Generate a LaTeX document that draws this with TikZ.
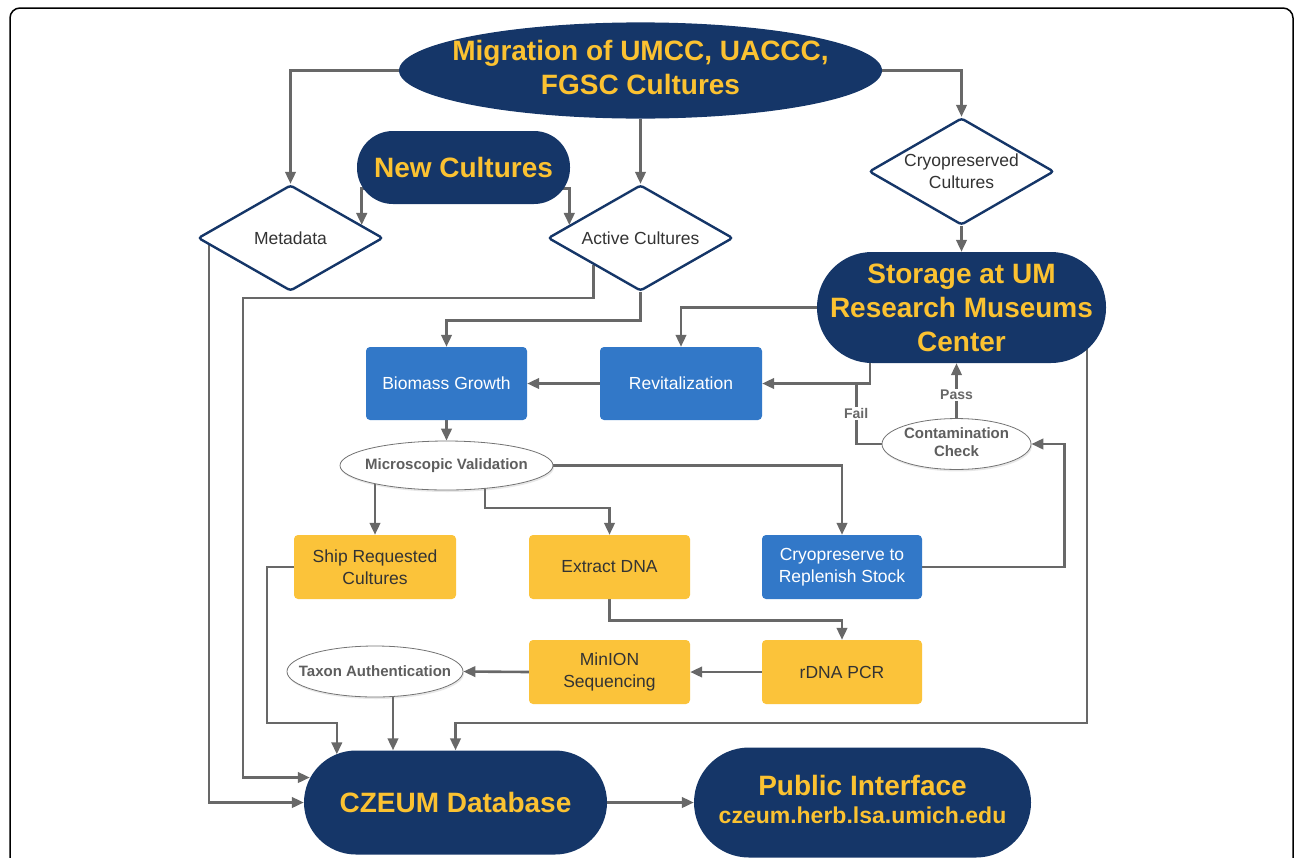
\documentclass[tikz,border=0pt]{standalone}
\usepackage{fontspec}
\setmainfont{Liberation Sans}
\usetikzlibrary{shapes.geometric,arrows.meta,calc,shadows}
\definecolor{navy}{HTML}{153668}
\definecolor{gold}{HTML}{FBC231}
\definecolor{bluebox}{HTML}{3278C8}
\definecolor{yellowbox}{HTML}{FBC33A}
\definecolor{conngray}{HTML}{686868}
\definecolor{txtdark}{HTML}{333333}
\definecolor{txtgray}{HTML}{5E5E5E}
\pgfdeclarelayer{bg}
\pgfsetlayers{bg,main}
\begin{document}
\begin{tikzpicture}[x=1pt,y=-1pt,
  bigtxt/.style={font=\fontsize{28}{34}\selectfont\bfseries, text=gold, align=center},
  stadium/.style={rectangle, fill=navy, inner sep=0pt, bigtxt},
  dia/.style={diamond, draw=navy, line width=2.4pt, fill=white, aspect=1.75, inner sep=0pt,
    minimum width=185pt, minimum height=106pt, rounded corners=3pt,
    font=\fontsize{17.5}{22}\selectfont, text=txtdark, align=center},
  bluerect/.style={rectangle, rounded corners=4pt, fill=bluebox, text=white, inner sep=0pt,
    minimum width=161pt, minimum height=73pt, font=\fontsize{17.5}{22}\selectfont, align=center},
  yelrect/.style={rectangle, rounded corners=4pt, fill=yellowbox, text=txtdark, inner sep=0pt,
    minimum width=161pt, minimum height=64pt, font=\fontsize{17.5}{22}\selectfont, align=center},
  oval/.style={ellipse, draw=black!55, line width=0.8pt, fill=white, text=txtgray, inner sep=0pt,
    font=\fontsize{15}{18}\selectfont\bfseries, align=center,
    drop shadow={opacity=0.18, shadow xshift=1pt, shadow yshift=-2pt}},
  conn/.style={draw=conngray, line width=2.6pt, -{Triangle[length=12pt,width=10.5pt]}},
  plainconn/.style={draw=conngray, line width=2.6pt},
  lbl/.style={fill=white, text=conngray, font=\fontsize{14}{16}\selectfont\bfseries, inner sep=1.5pt}
]
\useasboundingbox (0,0) rectangle (1295,857);
\clip (0,0) rectangle (1295,857);
\draw[line width=1.5pt, rounded corners=10pt] (10,8) rectangle (1293,900);

% nodes
\node[ellipse, fill=navy, inner sep=0pt, minimum width=483pt, minimum height=93pt, bigtxt] (mig) at (640.5,70.5)
  {\makebox[0pt]{\begin{tabular}{@{}c@{}}Migration of UMCC, UACCC,\\FGSC Cultures\end{tabular}}};
\node[stadium, minimum width=213pt, minimum height=73pt, rounded corners=36pt] (new) at (463.5,167.5) {New Cultures};
\node[dia] (meta) at (290.5,238) {Metadata};
\node[dia] (act) at (640.5,238) {Active Cultures};
\node[dia, minimum height=107pt] (cryo) at (961.5,171.5) {Cryopreserved\\Cultures};
\node[stadium, minimum width=289pt, minimum height=111pt, rounded corners=55pt] (stor) at (961.5,307.5)
  {Storage at UM\\Research Museums\\Center};
\node[bluerect] (bio) at (446.5,383.5) {Biomass Growth};
\node[bluerect, minimum width=162pt] (rev) at (681,383.5) {Revitalization};
\node[oval, minimum width=213pt, minimum height=49pt] (mic) at (446.5,465.5) {\makebox[0pt]{Microscopic Validation}};
\node[oval, minimum width=149pt, minimum height=46pt] (cont) at (956.5,444) {\makebox[0pt]{\begin{tabular}{@{}c@{}}Contamination\\Check\end{tabular}}};
\node[yelrect, minimum width=162pt] (ship) at (375,567) {Ship Requested\\Cultures};
\node[yelrect] (ext) at (609.5,567) {Extract DNA};
\node[bluerect, minimum width=160pt, minimum height=64pt] (cryst) at (842,567) {Cryopreserve to\\Replenish Stock};
\node[yelrect] (min) at (609.5,672) {MinION\\Sequencing};
\node[yelrect, minimum width=160pt] (pcr) at (842,672) {rDNA PCR};
\node[oval, minimum width=176pt, minimum height=51pt] (tax) at (375,671.5) {\makebox[0pt]{Taxon Authentication}};
\node[stadium, minimum width=303pt, minimum height=104pt, rounded corners=52pt] (db) at (455.5,802.5) {CZEUM Database};
\node[stadium, minimum width=337pt, minimum height=110pt, rounded corners=55pt] (pub) at (862.5,802.5)
  {\makebox[0pt]{\begin{tabular}{@{}c@{}}Public Interface\\[-6pt]{\fontsize{23}{28}\selectfont czeum.herb.lsa.umich.edu}\end{tabular}}};

\coordinate (tx) at ($(tax.center)+(18,0)$);

% connectors
\begin{pgfonlayer}{bg}
\draw[conn] (mig.west) -| (meta.north);
\draw[conn] (mig.south) -- (act.north);
\draw[conn] (mig.east) -| (cryo.north);
\draw[conn] ([shift={(8,-16)}]new.south west) -| ($(meta.north)!0.76!(meta.east)$);
\draw[conn] ([shift={(-8,-16)}]new.south east) -| ($(act.north)!0.76!(act.west)$);
\draw[conn] (act.south) -- ++(0,28) -| (bio.north);
\draw[conn] ($(act.south)!0.5!(act.west)$) |- (243,298) |- ([shift={(6,-25)}]db.west);
\draw[conn] ($(meta.west)+(12,0)$) |- (db.west);
\draw[conn] (cryo.south) -- (stor.north);
\draw[conn] (stor.west) -| (rev.north);
\draw[conn] ($(stor.south west)+(53,0)$) |- (rev.east);
\draw[plainconn] (cont.west) -| node[lbl, pos=0.75] {Fail} ($(rev.east)+(94,0)$);
\draw[conn] (cont.north) -- node[lbl, pos=0.42] {Pass} (cont.north |- stor.south);
\draw[conn] (rev.west) -- (bio.east);
\draw[conn] (bio.south) -- (mic.north);
\draw[conn] (mic.east) -| (cryst.north);
\draw[conn] (ship.north |- mic.center) -- (ship.north);
\draw[conn] ($(mic.center)+(38.5,0)$) -- ++(0,42.5) -| (ext.north);
\draw[conn] (cryst.east) -- ++(142,0) |- (cont.east);
\draw[conn] (ext.south) -- ++(0,21) -| (pcr.north);
\draw[conn] (pcr.west) -- (min.east);
\draw[conn] (min.west) -- (tax.east);
\draw[conn] (tx) -- (tx |- db.north);
\draw[conn] (ship.west) -- ++(-27,0) -- ++(0,156) -| ([shift={(33,4)}]db.north west);
\draw[conn] ($(stor.center)+(125.5,0)$) -- ++(0,415.5) -| (db.north);
\draw[conn] (db.east) -- (pub.west);
\end{pgfonlayer}
\end{tikzpicture}
\end{document}
